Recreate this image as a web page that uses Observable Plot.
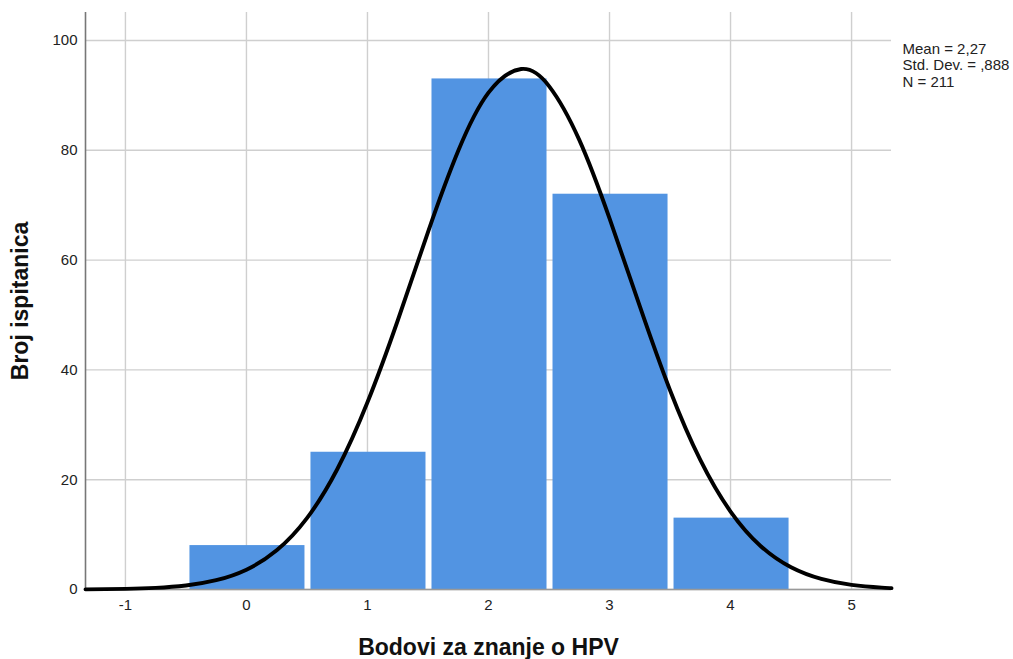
<!DOCTYPE html>
<html>
<head>
<meta charset="utf-8">
<script src="https://cdn.jsdelivr.net/npm/d3@7"></script>
<script src="https://cdn.jsdelivr.net/npm/@observablehq/plot@0.6"></script>
<style>
  body { margin: 0; background: #fff; }
  #chart svg { display: block; }
</style>
</head>
<body>
<div id="chart"></div>
<script>
// Histogram bins (score) and counts
const scores = [0, 1, 2, 3, 4];
const counts = [8, 25, 93, 72, 13];

// Normal curve (x, frequency)
const curveX = [-1.33, -1, -0.75, -0.5, -0.25, 0, 0.25, 0.5, 0.75, 1, 1.25, 1.5, 1.75, 2, 2.27, 2.5, 2.75, 3, 3.25, 3.5, 3.75, 4, 4.25, 4.5, 4.75, 5, 5.25, 5.33];
const curveY = [0.03, 0.11, 0.29, 0.73, 1.69, 3.61, 7.13, 13.0, 21.9, 34.1, 49.0, 65.1, 79.9, 90.5, 94.8, 91.7, 81.9, 67.6, 51.6, 36.3, 23.6, 14.2, 7.89, 4.05, 1.92, 0.84, 0.34, 0.25];

const xTicks = [-1, 0, 1, 2, 3, 4, 5];
const yTicks = [0, 20, 40, 60, 80, 100];
const statsText = ["Mean = 2,27", "Std. Dev. = ,888", "N = 211"];

const bars = scores.map((s, i) => ({x1: s - 0.5, x2: s + 0.5, count: counts[i]}));
const curve = curveX.map((x, i) => ({x, y: curveY[i]}));

const font = "'Liberation Sans', Arial, sans-serif";

const chart = Plot.plot({
  width: 1013,
  height: 659,
  marginLeft: 85,
  marginRight: 122,
  marginTop: 12,
  marginBottom: 70,
  style: {fontFamily: font, fontSize: "15px", color: "#222", background: "#fff"},
  x: {domain: [-1.33, 5.33]},
  y: {domain: [0, 105.1]},
  marks: [
    Plot.gridX(xTicks, {stroke: "#cfcfcf", strokeOpacity: 1, strokeWidth: 1.4}),
    Plot.gridY(yTicks, {stroke: "#cfcfcf", strokeOpacity: 1, strokeWidth: 1.4}),
    Plot.rectY(bars, {x1: "x1", x2: "x2", y: "count", fill: "#5294e2", insetLeft: 4, insetRight: 2}),
    Plot.ruleY([0], {stroke: "#999", strokeWidth: 1.5}),
    Plot.ruleX([-1.33], {stroke: "#777", strokeWidth: 1.6}),
    Plot.line(curve, {x: "x", y: "y", curve: "natural", stroke: "#000", strokeWidth: 3.9}),
    Plot.axisX(xTicks, {tickSize: 0, tickPadding: 10, fontSize: 15, label: null, fill: "#222", tickFormat: d => String(d)}),
    Plot.axisY(yTicks, {tickSize: 0, tickPadding: 8, fontSize: 15, label: null, fill: "#222", tickFormat: d => String(d)}),
    Plot.text(["Bodovi za znanje o HPV"], {frameAnchor: "bottom", dy: 58, fontSize: 23, fontWeight: "bold", fill: "#111", lineAnchor: "middle", textAnchor: "middle"}),
    Plot.text(["Broj ispitanica"], {frameAnchor: "left", dx: -65, rotate: -90, fontSize: 23, fontWeight: "bold", fill: "#111", lineAnchor: "middle", textAnchor: "middle"}),
    Plot.text([statsText.join("\n")], {frameAnchor: "top-right", dx: 11, dy: 29, textAnchor: "start", lineAnchor: "top", fontSize: 15, lineHeight: 1.13, fill: "#222"})
  ]
});

document.getElementById("chart").appendChild(chart);
</script>
</body>
</html>
